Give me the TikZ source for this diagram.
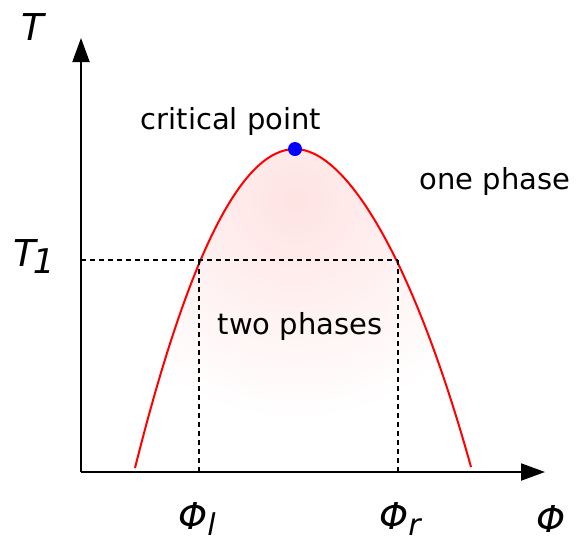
\documentclass[tikz,border=0pt]{standalone}
\usepackage{fontspec}
\setmainfont{DejaVu Sans}
\usetikzlibrary{arrows.meta}

\begin{document}
\begin{tikzpicture}[x=1pt,y=-1pt,>={Triangle[length=24pt,width=17pt]},
  lbl/.style={inner sep=0pt,font=\fontsize{29}{33}\selectfont},
  sym/.style={inner sep=0pt,font=\fontsize{37}{40}\selectfont\itshape},
  guide/.style={line width=1.4pt,dash pattern=on 5pt off 4pt}]
  \useasboundingbox (0,0) rectangle (581,539);
  \coordinate (O) at (81,472);
  \coordinate (ytip) at (81,38);
  \coordinate (xtip) at (545,472);
  \coordinate (top) at (295,149);
  \coordinate (lend) at (135,468);
  \coordinate (rend) at (471,467);
  \coordinate (pl) at (199,260);
  \coordinate (pr) at (398,260);
  \begin{scope}
    \clip (lend) .. controls (188.3,255.3) and (241.7,149) .. (top)
      .. controls (345,149) and (412,255) .. (rend) -- cycle;
    \shade[inner color=red!11,outer color=white] (295,200) circle (220);
  \end{scope}
  \draw[red,line width=2pt] (lend) .. controls (188.3,255.3) and (241.7,149) .. (top)
    .. controls (345,149) and (412,255) .. (rend);
  \draw[guide] (O |- pl) -- (pr);
  \draw[guide] (pl) -- (pl |- O);
  \draw[guide] (pr) -- (pr |- O);
  \draw[->,line width=2pt] (O) -- (ytip);
  \draw[->,line width=2pt] (O) -- (xtip);
  \fill[blue] (top) circle (7);
  \node[lbl] (crit) at (231,121) {critical point};
  \node[lbl] (one) at (495,181) {one phase};
  \node[lbl] (two) at (300,326) {two phases};
  \node[sym] (T) at (33,27) {T};
  \node[sym] (T1) at (34,257) {T\kern-3pt\raisebox{-7pt}{\fontsize{34}{36}\selectfont 1}};
  \node[sym] (phil) at (197,519) {Φ\raisebox{-6pt}{\fontsize{30}{32}\selectfont l}};
  \node[sym] (phir) at (400,519) {Φ\raisebox{-6pt}{\fontsize{30}{32}\selectfont r}};
  \node[sym] (phi) at (551,519) {Φ};
\end{tikzpicture}
\end{document}
